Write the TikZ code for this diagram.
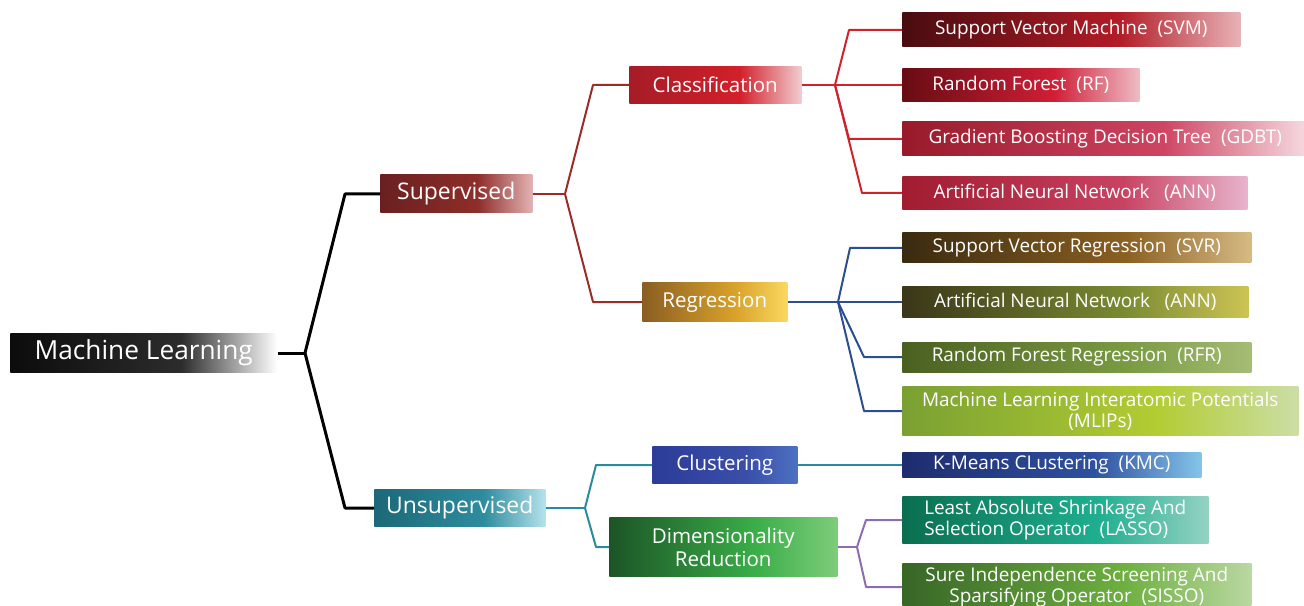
\documentclass[tikz,border=0pt]{standalone}
\usepackage{fontspec}
\setmainfont{Open Sans}
\usepackage{tikz}

% box colours: left / middle / right of each fade
\definecolor{mlL}{HTML}{0C0C0C}\definecolor{mlM}{HTML}{2C2C2C}\definecolor{mlR}{HTML}{FFFFFF}
\definecolor{supL}{HTML}{6A2020}\definecolor{supM}{HTML}{8E2E2A}\definecolor{supR}{HTML}{E2B2B2}
\definecolor{unsL}{HTML}{1C6878}\definecolor{unsM}{HTML}{2E8C9E}\definecolor{unsR}{HTML}{B4E2EC}
\definecolor{clsL}{HTML}{A51C26}\definecolor{clsM}{HTML}{D2202A}\definecolor{clsR}{HTML}{F2CCD0}
\definecolor{regL}{HTML}{8A5E22}\definecolor{regM}{HTML}{D9A22A}\definecolor{regR}{HTML}{FAD860}
\definecolor{cluL}{HTML}{2C3C98}\definecolor{cluM}{HTML}{3A4EA8}\definecolor{cluR}{HTML}{4C70C2}
\definecolor{dimL}{HTML}{1C5426}\definecolor{dimM}{HTML}{3AAE48}\definecolor{dimR}{HTML}{7ECC7A}
\definecolor{svmL}{HTML}{480C10}\definecolor{svmM}{HTML}{B21C26}\definecolor{svmR}{HTML}{E8B2B6}
\definecolor{rfL}{HTML}{680C14}\definecolor{rfM}{HTML}{D01E36}\definecolor{rfR}{HTML}{EEBCC4}
\definecolor{gdbL}{HTML}{981A2A}\definecolor{gdbM}{HTML}{CE4462}\definecolor{gdbR}{HTML}{F6DCE2}
\definecolor{anncL}{HTML}{A01C30}\definecolor{anncM}{HTML}{C84262}\definecolor{anncR}{HTML}{E8B4CC}
\definecolor{svrL}{HTML}{3A2A10}\definecolor{svrM}{HTML}{8A6022}\definecolor{svrR}{HTML}{D6BA84}
\definecolor{annrL}{HTML}{3A3618}\definecolor{annrM}{HTML}{7A8A32}\definecolor{annrR}{HTML}{CCC454}
\definecolor{rfrL}{HTML}{4A6020}\definecolor{rfrM}{HTML}{7A9A42}\definecolor{rfrR}{HTML}{A4BC74}
\definecolor{mlpL}{HTML}{7AA032}\definecolor{mlpM}{HTML}{B2CC32}\definecolor{mlpR}{HTML}{CCDEA6}
\definecolor{kmcL}{HTML}{1E2C6E}\definecolor{kmcM}{HTML}{2E50A0}\definecolor{kmcR}{HTML}{84C4EA}
\definecolor{lasL}{HTML}{0A6E50}\definecolor{lasM}{HTML}{20AE90}\definecolor{lasR}{HTML}{94D2C2}
\definecolor{sisL}{HTML}{386626}\definecolor{sisM}{HTML}{6EB040}\definecolor{sisR}{HTML}{BAD8A2}
% connector colours
\definecolor{lnSup}{HTML}{9A2C26}
\definecolor{lnCls}{HTML}{D0222A}
\definecolor{lnReg}{HTML}{2A4E90}
\definecolor{lnUns}{HTML}{2A8AA0}
\definecolor{lnDim}{HTML}{8C6CB2}

\colorlet{fadeL}{black}\colorlet{fadeM}{gray}\colorlet{fadeR}{white}
\pgfdeclarehorizontalshading[fadeL,fadeM,fadeR]{boxfade}{100bp}{color(0bp)=(fadeL); color(25bp)=(fadeL); color(57bp)=(fadeM); color(75bp)=(fadeR); color(100bp)=(fadeR)}

\tikzset{
  tint/.code n args={3}{\colorlet{fadeL}{#1}\colorlet{fadeM}{#2}\colorlet{fadeR}{#3}},
  wh/.style 2 args={minimum width=#1*0.75pt, minimum height=#2*0.75pt},
  box/.style={anchor=west, shade, shading=boxfade, text=white, inner sep=0pt, align=center},
  rootf/.style={font=\fontsize{19.7pt}{22pt}\selectfont},
  topf/.style={font=\fontsize{17.2pt}{20pt}\selectfont},
  midf/.style={font=\fontsize{15.4pt}{17.5pt}\selectfont},
  leaff/.style={font=\fontsize{14.2pt}{15.8pt}\selectfont},
  link/.style={line width=1.5pt, line join=round},
}

\begin{document}
\begin{tikzpicture}[x=0.75pt, y=-0.75pt]
 \useasboundingbox (0,0) rectangle (1304,606);
 \begin{scope}
 \clip (0,0) rectangle (1304,606);

 % main branches
 \node[box, rootf, wh={267}{39}, tint={mlL}{mlM}{mlR}] (ml) at (10,353) {Machine Learning};
 \node[box, topf, wh={152}{38}, tint={supL}{supM}{supR}] (sup) at (380,194) {Supervised};
 \node[box, topf, wh={171}{37}, tint={unsL}{unsM}{unsR}] (unsup) at (374,508) {Unsupervised};

 \node[box, midf, wh={172}{37}, tint={clsL}{clsM}{clsR}] (cls) at (629,85) {Classification};
 \node[box, midf, wh={145}{38}, tint={regL}{regM}{regR}] (reg) at (642,302) {Regression};
 \node[box, midf, wh={145}{37}, tint={cluL}{cluM}{cluR}] (clu) at (652,465) {Clustering};
 \node[box, midf, wh={228}{59}, tint={dimL}{dimM}{dimR}] (dimr) at (609,547) {Dimensionality\\Reduction};

 % methods
 \node[box, leaff, wh={338}{34}, tint={svmL}{svmM}{svmR}] (svm) at (902,30) {Support Vector Machine~~(SVM)};
 \node[box, leaff, wh={237}{33}, tint={rfL}{rfM}{rfR}] (rf) at (902,85) {Random Forest~~(RF)};
 \node[box, leaff, wh={406}{34}, tint={gdbL}{gdbM}{gdbR}] (gdbt) at (902,139) {Gradient Boosting Decision Tree~~(GDBT)};
 \node[box, leaff, wh={345}{33}, tint={anncL}{anncM}{anncR}] (annc) at (902,193) {Artificial Neural Network~~~(ANN)};

 \node[box, leaff, wh={349}{30}, tint={svrL}{svrM}{svrR}] (svr) at (902,248) {Support Vector Regression~~(SVR)};
 \node[box, leaff, wh={346}{30}, tint={annrL}{annrM}{annrR}] (annr) at (902,302) {Artificial Neural Network~~~(ANN)};
 \node[box, leaff, wh={349}{30}, tint={rfrL}{rfrM}{rfrR}] (rfr) at (902,357) {Random Forest Regression~~(RFR)};
 \node[box, leaff, wh={396}{49}, tint={mlpL}{mlpM}{mlpR}] (mlip) at (902,411) {Machine Learning Interatomic Potentials\\(MLIPs)};

 \node[box, leaff, wh={299}{25}, tint={kmcL}{kmcM}{kmcR}] (kmc) at (902,465) {K-Means CLustering~~(KMC)};
 \node[box, leaff, wh={306}{47}, tint={lasL}{lasM}{lasR}, align=left] (lasso) at (902,520) {Least Absolute Shrinkage And\\Selection Operator~~(LASSO)};
 \node[box, leaff, wh={349}{48}, tint={sisL}{sisM}{sisR}] (sisso) at (902,587) {Sure Independence Screening And\\Sparsifying Operator~~(SISSO)};

 % forks
 \coordinate (f0) at (305,353);
 \coordinate (f1) at (565,194);
 \coordinate (f2) at (835,85);
 \coordinate (f3) at (838,302);
 \coordinate (f4) at (585,508);
 \coordinate (f5) at (857,547);

 \draw[link, line width=2.25pt] (ml.east) -- (f0);
 \draw[link, line width=2.25pt] (f0) -- (345,194) -- (sup.west);
 \draw[link, line width=2.25pt] (f0) -- (345,508) -- (unsup.west);

 \draw[link, lnSup] (sup.east) -- (f1);
 \draw[link, lnSup] (f1) -- (593,85) -- (cls.west);
 \draw[link, lnSup] (f1) -- (593,302) -- (reg.west);

 \draw[link, lnCls] (cls.east) -- (f2);
 \draw[link, lnCls] (f2) -- (849,30) -- (svm.west);
 \draw[link, lnCls] (f2) -- (rf.west);
 \draw[link, lnCls] (f2) -- (849,139) -- (gdbt.west);
 \draw[link, lnCls] (f2) -- (862,193) -- (annc.west);

 \draw[link, lnReg] (reg.east) -- (f3);
 \draw[link, lnReg] (f3) -- (850,248) -- (svr.west);
 \draw[link, lnReg] (f3) -- (annr.west);
 \draw[link, lnReg] (f3) -- (864,357) -- (rfr.west);
 \draw[link, lnReg] (f3) -- (864,411) -- (mlip.west);

 \draw[link, lnUns] (unsup.east) -- (f4);
 \draw[link, lnUns] (f4) -- (596,465) -- (clu.west);
 \draw[link, lnUns] (f4) -- (596,547) -- (dimr.west);
 \draw[link, lnUns] (clu.east) -- (kmc.west);

 \draw[link, lnDim] (dimr.east) -- (f5);
 \draw[link, lnDim] (f5) -- (866,520) -- (lasso.west);
 \draw[link, lnDim] (f5) -- (866,587) -- (sisso.west);
 \end{scope}
\end{tikzpicture}
\end{document}
